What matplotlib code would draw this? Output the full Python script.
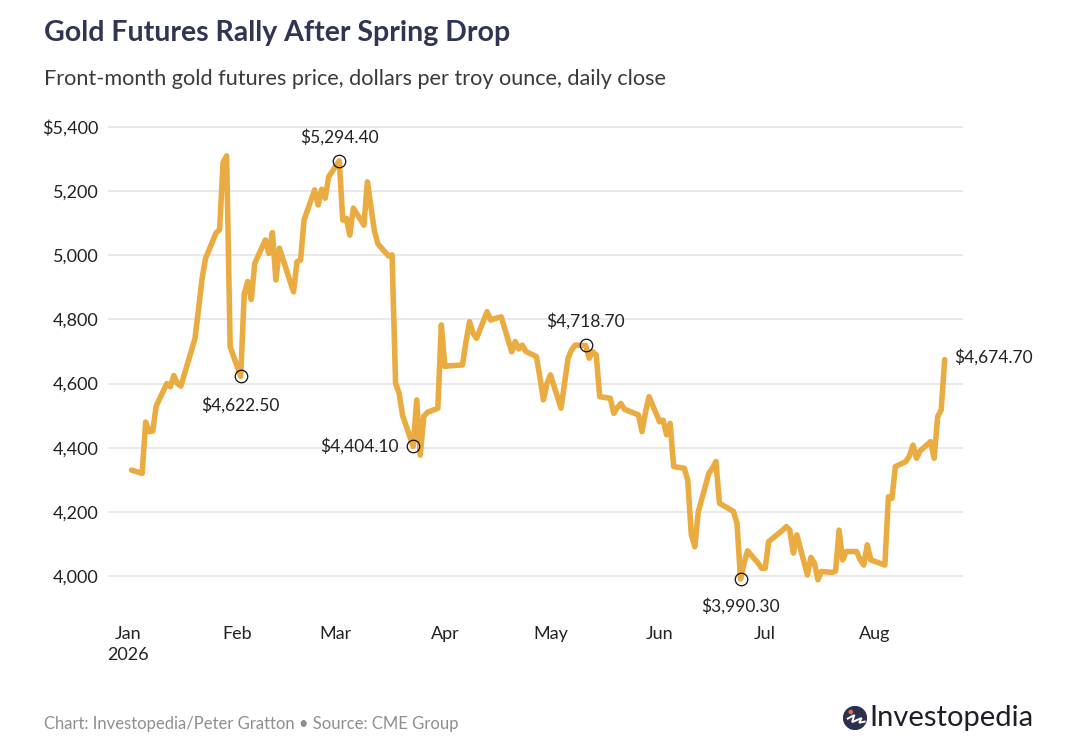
import matplotlib
matplotlib.use("Agg")
import matplotlib.pyplot as plt
from matplotlib.patches import Circle
import pandas as pd

# ================= Data =================
dates = [
    "2026-01-02", "2026-01-05", "2026-01-06", "2026-01-07", "2026-01-08", "2026-01-09",
    "2026-01-12", "2026-01-13", "2026-01-14", "2026-01-15", "2026-01-16",
    "2026-01-20", "2026-01-21", "2026-01-22", "2026-01-23",
    "2026-01-26", "2026-01-27", "2026-01-28", "2026-01-29", "2026-01-30",
    "2026-02-02", "2026-02-03", "2026-02-04", "2026-02-05", "2026-02-06",
    "2026-02-09", "2026-02-10", "2026-02-11", "2026-02-12", "2026-02-13",
    "2026-02-17", "2026-02-18", "2026-02-19", "2026-02-20",
    "2026-02-23", "2026-02-24", "2026-02-25", "2026-02-26", "2026-02-27",
    "2026-03-02", "2026-03-03", "2026-03-04", "2026-03-05", "2026-03-06",
    "2026-03-09", "2026-03-10", "2026-03-11", "2026-03-12", "2026-03-13",
    "2026-03-16", "2026-03-17", "2026-03-18", "2026-03-19", "2026-03-20",
    "2026-03-23", "2026-03-24", "2026-03-25", "2026-03-26", "2026-03-27",
    "2026-03-30", "2026-03-31", "2026-04-01", "2026-04-02",
    "2026-04-06", "2026-04-07", "2026-04-08", "2026-04-09", "2026-04-10",
    "2026-04-13", "2026-04-14", "2026-04-15", "2026-04-16", "2026-04-17",
    "2026-04-20", "2026-04-21", "2026-04-22", "2026-04-23", "2026-04-24",
    "2026-04-27", "2026-04-28", "2026-04-29", "2026-04-30", "2026-05-01",
    "2026-05-04", "2026-05-05", "2026-05-06", "2026-05-07", "2026-05-08",
    "2026-05-11", "2026-05-12", "2026-05-13", "2026-05-14", "2026-05-15",
    "2026-05-18", "2026-05-19", "2026-05-20", "2026-05-21", "2026-05-22",
    "2026-05-26", "2026-05-27", "2026-05-28", "2026-05-29",
    "2026-06-01", "2026-06-02", "2026-06-03", "2026-06-04", "2026-06-05",
    "2026-06-08", "2026-06-09", "2026-06-10", "2026-06-11", "2026-06-12",
    "2026-06-15", "2026-06-16", "2026-06-17", "2026-06-18",
    "2026-06-22", "2026-06-23", "2026-06-24", "2026-06-25", "2026-06-26",
    "2026-06-29", "2026-06-30", "2026-07-01", "2026-07-02",
    "2026-07-06", "2026-07-07", "2026-07-08", "2026-07-09", "2026-07-10",
    "2026-07-13", "2026-07-14", "2026-07-15", "2026-07-16", "2026-07-17",
    "2026-07-20", "2026-07-21", "2026-07-22", "2026-07-23", "2026-07-24",
    "2026-07-27", "2026-07-28", "2026-07-29", "2026-07-30", "2026-07-31",
    "2026-08-03", "2026-08-04", "2026-08-05", "2026-08-06", "2026-08-07",
    "2026-08-10", "2026-08-11", "2026-08-12", "2026-08-13", "2026-08-14",
    "2026-08-17", "2026-08-18", "2026-08-19", "2026-08-20", "2026-08-21",
]
prices = [
    4330, 4320, 4480, 4450, 4452, 4530,
    4600, 4590, 4625, 4600, 4592,
    4740, 4830, 4925, 4990,
    5070, 5080, 5290, 5310, 4715,
    4622.5, 4880, 4918, 4862, 4975,
    5048, 5006, 5071, 4923, 5022,
    4886, 4980, 4985, 5110,
    5204, 5157, 5206, 5178, 5245,
    5294.4, 5110, 5115, 5063, 5147,
    5094, 5229, 5150, 5075, 5035,
    4998, 5001, 4601, 4570, 4500,
    4404.1, 4549, 4377, 4497, 4510,
    4523, 4783, 4653, 4655,
    4658, 4730, 4793, 4757, 4741,
    4824, 4798, 4802, 4805, 4808,
    4699, 4731, 4708, 4720, 4700,
    4684, 4620, 4549, 4600, 4627,
    4523, 4600, 4679, 4705, 4720,
    4718.7, 4679, 4699, 4689, 4559,
    4554, 4507, 4525, 4538, 4520,
    4502, 4450, 4510, 4559,
    4481, 4486, 4440, 4476, 4341,
    4336, 4299, 4130, 4091, 4200,
    4320, 4336, 4357, 4227,
    4201, 4164, 3990.3, 4040, 4078,
    4040, 4024, 4024, 4107,
    4143, 4154, 4143, 4071, 4128,
    4003, 4058, 4040, 3988, 4014,
    4011, 4015, 4143, 4050, 4076,
    4076, 4050, 4034, 4097, 4050,
    4038, 4034, 4247, 4242, 4341,
    4357, 4375, 4408, 4367, 4390,
    4419, 4367, 4497, 4518, 4674.7,
]

# highlighted closes
note_dates = ["2026-02-02", "2026-03-02", "2026-03-23", "2026-05-11", "2026-06-24", "2026-08-21"]
note_values = [4622.5, 5294.4, 4404.1, 4718.7, 3990.3, 4674.7]
note_circle = [True, True, True, True, True, False]

y_ticks = [4000, 4200, 4400, 4600, 4800, 5000, 5200, 5400]
month_ticks = ["2026-01-01", "2026-02-01", "2026-03-01", "2026-04-01",
               "2026-05-01", "2026-06-01", "2026-07-01", "2026-08-01"]
month_labels = ["Jan\n2026", "Feb", "Mar", "Apr", "May", "Jun", "Jul", "Aug"]

TITLE = "Gold Futures Rally After Spring Drop"
SUBTITLE = "Front-month gold futures price, dollars per troy ounce, daily close"
FOOTER = "Chart: Investopedia/Peter Gratton \u2022 Source: CME Group"

# ================= Style =================
GOLD = "#EAAC40"
INK = "#222222"
NAVY = "#2F3552"
plt.rcParams["font.family"] = ["Lato", "DejaVu Sans"]

W, H = 1081, 742
fig = plt.figure(figsize=(W / 100, H / 100), dpi=100)
fig.patch.set_facecolor("white")

# axes placed in pixel terms
ax_left, ax_right = 108, 963
ax_top, ax_bottom = 111, 608
ax = fig.add_axes([ax_left / W, 1 - ax_bottom / H,
                   (ax_right - ax_left) / W, (ax_bottom - ax_top) / H])

x = pd.to_datetime(dates)
ax.plot(x, prices, color=GOLD, lw=4.0, solid_joinstyle="round",
        solid_capstyle="round", zorder=3)

jan1 = pd.Timestamp("2026-01-01")
ax.set_xlim(jan1 - pd.Timedelta(days=5.7), jan1 + pd.Timedelta(days=237.2))
ax.set_ylim(3900, 5450)

ax.set_yticks(y_ticks)
ax.set_yticklabels([("$" if v == y_ticks[-1] else "") + f"{v:,}" for v in y_ticks])
ax.set_xticks(pd.to_datetime(month_ticks))
ax.set_xticklabels(month_labels, linespacing=1.4, va="top")
ax.tick_params(axis="both", length=0, labelsize=13, labelcolor=INK)
ax.tick_params(axis="y", pad=7)
ax.tick_params(axis="x", pad=13)

ax.grid(axis="y", color="#E3E3E3", lw=1.1, zorder=0)
ax.grid(axis="x", visible=False)
for s in ax.spines.values():
    s.set_visible(False)

# annotations
offsets = [(0, -29, "center"), (0, 24, "center"), (-15, 0, "right"),
           (0, 24, "center"), (0, -27, "center"), (9, 2, "left")]
for d, v, circ, (dx, dy, ha) in zip(note_dates, note_values, note_circle, offsets):
    xd = pd.Timestamp(d)
    if circ:
        ax.plot([xd], [v], marker="o", ms=9, mfc="none", mec="#111111",
                mew=0.9, zorder=5)
    ax.annotate(f"${v:,.2f}", (xd, v), xytext=(dx, dy), textcoords="offset pixels",
                ha=ha, va="center", fontsize=12.5, color=INK, zorder=6)

# titles and footer
fig.text(44 / W, 1 - 33 / H, TITLE, fontsize=20.5, fontweight="bold",
         color=NAVY, va="center", ha="left")
fig.text(44 / W, 1 - 79 / H, SUBTITLE, fontsize=15.6, color="#3A3A3A",
         va="center", ha="left")
fig.text(44 / W, 1 - 724 / H, FOOTER, fontsize=12, color="#8E8E8E",
         va="center", ha="left")

# logo
lax = fig.add_axes([(844 - 1) / W, 1 - 730 / H, 24 / W, 24 / H])
lax.set_xlim(-1, 1)
lax.set_ylim(-1, 1)
lax.set_aspect("equal")
lax.axis("off")
lax.add_patch(Circle((0, 0), 0.95, color="#2C3150"))
lax.plot([-0.6, -0.05, -0.25, 0.55, 0.35, 0.8], [-0.05, 0.25, -0.35, 0.0, -0.4, -0.3],
         color="white", lw=1.4, solid_joinstyle="miter")
lax.add_patch(Circle((-0.35, 0.5), 0.13, color="#E4704A"))
fig.text(869 / W, 1 - 718 / H, "Investopedia", fontsize=21, color="#1E1E28",
         va="center", ha="left")

fig.savefig("out.png", dpi=100, facecolor="white")
